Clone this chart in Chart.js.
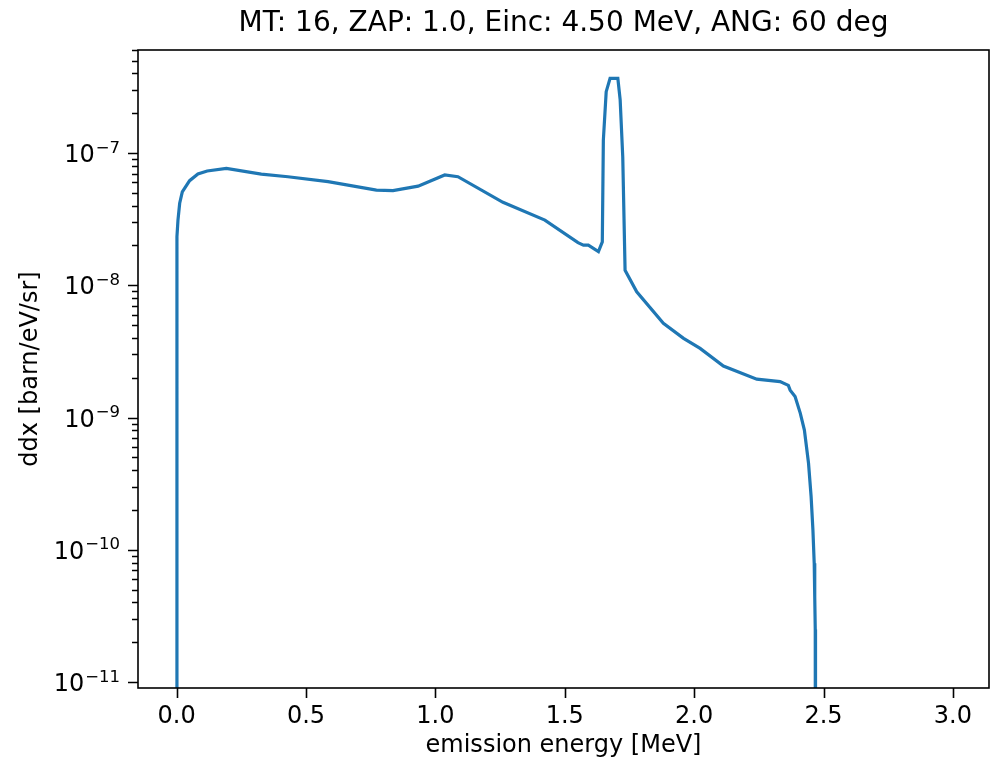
<!DOCTYPE html>
<html>
<head>
<meta charset="utf-8">
<script src="https://cdn.jsdelivr.net/npm/chart.js@4/dist/chart.umd.min.js"></script>
<style>
  html, body { margin: 0; padding: 0; background: #fff; }
  canvas { display: block; }
</style>
</head>
<body>
<canvas id="ddxChart" width="990" height="763"></canvas>
<script>
// emission energy [MeV] and ddx [barn/eV/sr]
const energies = [
  0.0, 0.001, 0.005, 0.0116, 0.0217, 0.050, 0.082, 0.118, 0.192, 0.327,
  0.430, 0.585, 0.772, 0.836, 0.933, 1.036, 1.087, 1.261, 1.423, 1.551,
  1.572, 1.591, 1.630, 1.645, 1.649, 1.660, 1.675, 1.705, 1.714, 1.724,
  1.733, 1.778, 1.881, 1.959, 2.023, 2.113, 2.242, 2.332, 2.364, 2.371,
  2.390, 2.410, 2.426, 2.442, 2.452, 2.459, 2.464, 2.466, 2.468, 2.469
];
const ddx = [
  1e-14, 2.33e-8, 3.11e-8, 4.17e-8, 5.09e-8, 6.18e-8, 6.95e-8, 7.31e-8, 7.66e-8, 6.93e-8,
  6.62e-8, 6.07e-8, 5.25e-8, 5.19e-8, 5.62e-8, 6.82e-8, 6.62e-8, 4.24e-8, 3.11e-8, 2.10e-8,
  2.01e-8, 2.01e-8, 1.80e-8, 2.13e-8, 1.25e-7, 2.91e-7, 3.67e-7, 3.67e-7, 2.52e-7, 9.38e-8,
  1.30e-8, 8.93e-9, 5.15e-9, 3.97e-9, 3.33e-9, 2.45e-9, 1.95e-9, 1.87e-9, 1.75e-9, 1.61e-9,
  1.44e-9, 1.08e-9, 8.05e-10, 4.51e-10, 2.52e-10, 1.41e-10, 7.9e-11, 4.4e-11, 2.5e-11, 1e-14
];
const xTicks = [0, 0.5, 1.0, 1.5, 2.0, 2.5, 3.0];
const yDecades = [-11, -10, -9, -8, -7];

const titleText = 'MT: 16, ZAP: 1.0, Einc: 4.50 MeV, ANG: 60 deg';
const font = 'DejaVu Sans';
const yMin = Math.pow(10, -11.045);
const yMax = Math.pow(10, -6.221);

// matplotlib-like frame, tick marks, 10^n labels and title
const axesFrame = {
  id: 'axesFrame',
  afterDraw(chart) {
    const { ctx, chartArea: a, scales: { x, y } } = chart;
    ctx.save();
    ctx.strokeStyle = '#000';
    ctx.lineWidth = 1.6;
    ctx.strokeRect(a.left, a.top, a.right - a.left, a.bottom - a.top);
    ctx.beginPath();
    x.ticks.forEach(t => {
      const px = Math.round(x.getPixelForValue(t.value)) + 0.5;
      ctx.moveTo(px, a.bottom);
      ctx.lineTo(px, a.bottom + 10);
    });
    y.ticks.forEach(t => {
      const py = Math.round(y.getPixelForValue(t.value)) + 0.5;
      ctx.moveTo(a.left, py);
      ctx.lineTo(a.left - (t.major ? 10 : 6), py);
    });
    ctx.stroke();

    ctx.fillStyle = '#000';
    ctx.textBaseline = 'alphabetic';
    ctx.textAlign = 'left';
    yDecades.forEach(e => {
      const py = y.getPixelForValue(Math.pow(10, e));
      const sup = '\u2212' + Math.abs(e);
      ctx.font = '16.5px "' + font + '"';
      const w2 = ctx.measureText(sup).width;
      ctx.fillText(sup, a.left - 18 - w2, py - 0.5);
      ctx.font = '24px "' + font + '"';
      const w1 = ctx.measureText('10').width;
      ctx.fillText('10', a.left - 19 - w2 - w1, py + 9);
    });

    ctx.font = '28px "' + font + '"';
    ctx.textAlign = 'center';
    ctx.textBaseline = 'middle';
    ctx.fillText(titleText, (a.left + a.right) / 2, 24);
    ctx.restore();
  }
};

new Chart(document.getElementById('ddxChart'), {
  type: 'line',
  data: {
    datasets: [{
      data: energies.map((e, i) => ({ x: e, y: ddx[i] })),
      borderColor: '#1f77b4',
      borderWidth: 3.2,
      pointRadius: 0,
      tension: 0,
      fill: false,
      clip: 0
    }]
  },
  options: {
    responsive: false,
    animation: false,
    devicePixelRatio: 1,
    layout: { padding: { top: 50, right: 1, left: 0, bottom: 0 } },
    plugins: {
      legend: { display: false },
      tooltip: { enabled: false }
    },
    scales: {
      x: {
        type: 'linear',
        min: -0.1495,
        max: 3.1395,
        afterFit: s => { s.height = 75; },
        afterBuildTicks: s => { s.ticks = xTicks.map(v => ({ value: v })); },
        grid: { display: false },
        border: { display: false },
        ticks: {
          color: '#000',
          padding: 6,
          autoSkip: false,
          maxRotation: 0,
          font: { family: font, size: 24 },
          callback: v => v.toFixed(1)
        },
        title: {
          display: true,
          text: 'emission energy [MeV]',
          color: '#000',
          font: { family: font, size: 24 },
          padding: { top: 0, bottom: 3 }
        }
      },
      y: {
        type: 'logarithmic',
        min: yMin,
        max: yMax,
        afterFit: s => { s.width = 138; },
        afterBuildTicks: s => {
          const ticks = [];
          for (let e = -12; e <= -7; e++) {
            for (let m = 1; m <= 9; m++) {
              const v = m * Math.pow(10, e);
              if (v >= yMin * 1.001 && v <= yMax * 0.999) {
                ticks.push({ value: v, major: m === 1 });
              }
            }
          }
          s.ticks = ticks;
        },
        grid: { display: false },
        border: { display: false },
        ticks: { display: false },
        title: {
          display: true,
          text: 'ddx [barn/eV/sr]',
          color: '#000',
          font: { family: font, size: 24 },
          padding: { top: 16, bottom: 0 }
        }
      }
    }
  },
  plugins: [axesFrame]
});
</script>
</body>
</html>
